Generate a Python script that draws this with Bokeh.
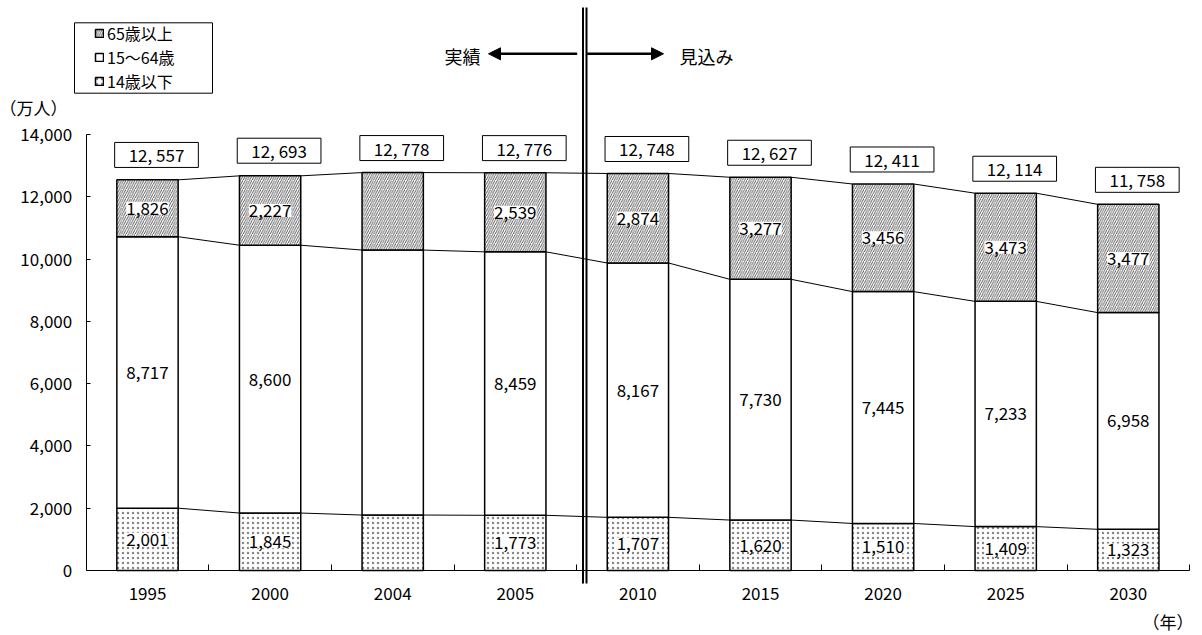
from bokeh.plotting import figure
from bokeh.models import (Range1d, FixedTicker, NumeralTickFormatter, Label, Arrow,
                          NormalHead, Legend, LegendItem)
from bokeh.embed import file_html
from bokeh.resources import INLINE

# ---------------- data ----------------
years = ["1995", "2000", "2004", "2005", "2010", "2015", "2020", "2025", "2030"]
age_0_14 = [2001, 1845, 1781, 1773, 1707, 1620, 1510, 1409, 1323]
age_15_64 = [8717, 8600, 8508, 8459, 8167, 7730, 7445, 7233, 6958]
age_65_over = [1826, 2227, 2488, 2539, 2874, 3277, 3456, 3473, 3477]
totals = [12557, 12693, 12778, 12776, 12748, 12627, 12411, 12114, 11758]
show_values = [True, True, False, True, True, True, True, True, True]
series_names = ["65歳以上", "15～64歳", "14歳以下"]
y_ticks = [0, 2000, 4000, 6000, 8000, 10000, 12000, 14000]
y_max = 14000
label_actual = "実績"
label_forecast = "見込み"
unit_y = "（万人）"
unit_x = "（年）"

# ---------------- layout geometry (pixel positions of the frame) ----------------
W, H = 1200, 633
N = len(years)
PX_X0 = 85.7          # image x of category axis start
PX_CAT = 122.6        # pixels per category
PX_Y0 = 570.0         # image y of value 0
PX_YMAX = 134.0       # image y of y_max
DPP = y_max / (PX_Y0 - PX_YMAX)

def xpx(ix):
    return (ix - PX_X0) / PX_CAT

def ypx(iy):
    return (PX_Y0 - iy) * DPP

CJK = "Noto Sans CJK JP"

p = figure(width=W, height=H, output_backend="svg", toolbar_location=None,
           x_range=Range1d(xpx(0), xpx(W)), y_range=Range1d(ypx(H), ypx(0)),
           min_border=0, min_border_left=0, min_border_right=0, min_border_top=0,
           min_border_bottom=0, background_fill_color="white",
           border_fill_color="white")
p.outline_line_color = None
p.xgrid.visible = False
p.ygrid.visible = False

xs = [i + 0.5 for i in range(N)]
top0 = list(age_0_14)
top1 = [a + b for a, b in zip(top0, age_15_64)]
top2 = [a + b for a, b in zip(top1, age_65_over)]

BW = 0.5
r14 = p.vbar(x=xs, bottom=0, top=top0, width=BW, fill_color="white",
             line_color="black", line_width=1.5, hatch_pattern="dot",
             hatch_color="#888888", hatch_scale=5, hatch_weight=1)
r15 = p.vbar(x=xs, bottom=top0, top=top1, width=BW, fill_color="white",
             line_color="black", line_width=1.5)
r65 = p.vbar(x=xs, bottom=top1, top=top2, width=BW, fill_color="white",
             line_color="black", line_width=1.5, hatch_pattern="right_diagonal_line",
             hatch_color="#333333", hatch_scale=4.5, hatch_weight=0.8)

# connector lines between bars
for lvl in (top0, top1, top2):
    p.segment(x0=[x + BW / 2 for x in xs[:-1]], y0=lvl[:-1],
              x1=[x - BW / 2 for x in xs[1:]], y1=lvl[1:],
              line_color="black", line_width=1)

# value labels inside segments
for i in range(N):
    if not show_values[i]:
        continue
    for bot, top, v in ((0, top0[i], age_0_14[i]), (top0[i], top1[i], age_15_64[i]),
                        (top1[i], top2[i], age_65_over[i])):
        p.add_layout(Label(x=xs[i], y=(bot + top) / 2, text=f"{v:,}",
                           text_align="center", text_baseline="middle",
                           text_font=CJK, text_font_size="17px", text_color="black",
                           background_fill_color="white", background_fill_alpha=1.0))

# total boxes
for i in range(N):
    p.add_layout(Label(x=xs[i], y=totals[i], x_offset=9, y_offset=12,
                       text=f"{totals[i]:,}".replace(",", ", "),
                       text_align="center", text_baseline="bottom",
                       text_font=CJK, text_font_size="17px", text_color="black",
                       background_fill_color="white", border_line_color="black",
                       border_line_width=1, padding=(14, 0)))

# axes (placed at data zero inside the full-canvas frame)
xa = p.xaxis[0]
xa.fixed_location = 0
xa.bounds = (0, N)
xa.ticker = FixedTicker(ticks=xs, minor_ticks=list(range(1, N + 1)))
xa.major_label_overrides = {x: y for x, y in zip(xs, years)}
xa.major_tick_in = 0
xa.major_tick_out = 0
xa.minor_tick_in = 6
xa.minor_tick_out = 0
xa.minor_tick_line_color = "black"
xa.axis_line_color = "black"
xa.major_label_text_font = CJK
xa.major_label_text_font_size = "17px"
xa.major_label_text_color = "black"
xa.major_label_standoff = 16

ya = p.yaxis[0]
ya.fixed_location = 0
ya.ticker = FixedTicker(ticks=y_ticks)
ya.formatter = NumeralTickFormatter(format="0,0")
ya.bounds = (0, y_max)
ya.major_tick_in = 4
ya.major_tick_out = 0
ya.minor_tick_line_color = None
ya.axis_line_color = "black"
ya.major_tick_line_color = "black"
ya.major_label_text_font = CJK
ya.major_label_text_font_size = "17px"
ya.major_label_text_color = "black"
ya.major_label_standoff = 14

# divider double line
XD = xpx(584.25)
for dx in (-1.75, 1.75):
    p.add_layout(Arrow(end=None, x_start=XD + dx / PX_CAT, x_end=XD + dx / PX_CAT,
                       y_start=ypx(583), y_end=ypx(7), line_color="black", line_width=2))

# arrows and captions
YA = ypx(53.3)
p.add_layout(Arrow(end=NormalHead(size=12, fill_color="black", line_color="black"),
                   x_start=xpx(576.7), y_start=YA, x_end=xpx(488), y_end=YA,
                   line_color="black", line_width=2.5))
p.add_layout(Arrow(end=NormalHead(size=12, fill_color="black", line_color="black"),
                   x_start=xpx(586.7), y_start=YA, x_end=xpx(663), y_end=YA,
                   line_color="black", line_width=2.5))
p.add_layout(Label(x=xpx(480), y=ypx(55), text=label_actual, text_align="right",
                   text_baseline="middle", text_font=CJK, text_font_size="18px",
                   text_color="black"))
p.add_layout(Label(x=xpx(679), y=ypx(55), text=label_forecast, text_align="left",
                   text_baseline="middle", text_font=CJK, text_font_size="18px",
                   text_color="black"))

p.add_layout(Label(x=xpx(-1), y=ypx(107), text=unit_y, text_align="left",
                   text_baseline="middle", text_font=CJK, text_font_size="17px",
                   text_color="black"))
p.add_layout(Label(x=xpx(1193), y=ypx(621), text=unit_x, text_align="right",
                   text_baseline="middle", text_font=CJK, text_font_size="17px",
                   text_color="black"))

# legend frame + legend
p.quad(left=xpx(74), right=xpx(212), top=ypx(22.3), bottom=ypx(92.7),
       fill_color="white", line_color="black", line_width=1)
legend = Legend(items=[LegendItem(label=series_names[0], renderers=[r65]),
                       LegendItem(label=series_names[1], renderers=[r15]),
                       LegendItem(label=series_names[2], renderers=[r14])],
                location=(94, H - 92.5), orientation="vertical",
                border_line_color=None, background_fill_alpha=0,
                padding=0, spacing=0, margin=0, glyph_width=10, glyph_height=10,
                label_standoff=3, label_height=20,
                label_text_font=CJK, label_text_font_size="16px",
                label_text_color="black")
p.add_layout(legend)

open("out.html", "w").write(file_html(p, INLINE))
